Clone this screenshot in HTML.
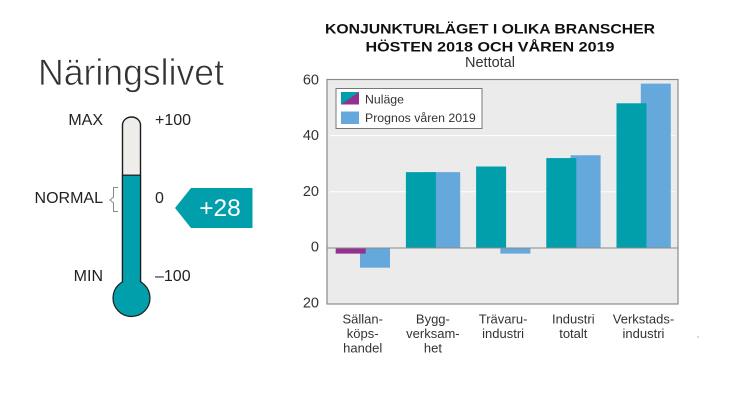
<!DOCTYPE html>
<html lang="sv">
<head>
<meta charset="utf-8">
<title>Näringslivet</title>
<style>
html,body{margin:0;padding:0;background:#fff;width:746px;height:419px;overflow:hidden}
svg{display:block;font-family:"Liberation Sans",sans-serif}
</style>
</head>
<body>
<svg id="chart" width="746" height="419" viewBox="0 0 746 419" xmlns="http://www.w3.org/2000/svg">
  <text x="38" y="85" font-size="37.5" fill="#333" stroke="#fff" stroke-width="0.7" paint-order="fill" textLength="186" lengthAdjust="spacingAndGlyphs">Näringslivet</text>
  <text x="490" y="33.5" font-size="14" font-weight="bold" fill="#111" text-anchor="middle" textLength="330" lengthAdjust="spacingAndGlyphs">KONJUNKTURLÄGET I OLIKA BRANSCHER</text>
  <text x="490" y="51.5" font-size="14" font-weight="bold" fill="#111" text-anchor="middle" textLength="249" lengthAdjust="spacingAndGlyphs">HÖSTEN 2018 OCH VÅREN 2019</text>
  <text x="490" y="67" font-size="14.5" fill="#333" text-anchor="middle">Nettotal</text>
  <g id="thermo"></g>
  <g id="bars"></g>
  <circle cx="698" cy="337" r="0.6" fill="#777"></circle>
</svg>
<script>
const categories = [["Sällan-","köps-","handel"],["Bygg-","verksam-","het"],["Trävaru-","industri"],["Industri","totalt"],["Verkstads-","industri"]];
const nulage = [-2, 27, 29, 32, 51.5];
const prognos = [-7, 27, -2, 33, 58.5];
const yTicks = [60, 40, 20, 0, -20];
const yTickLabels = ["60", "40", "20", "0", "20"];
const legendLabels = ["Nuläge", "Prognos våren 2019"];
const thermoValue = 28;
const thermoTicks = [100, 0, -100];
const thermoTickLabels = ["+100", "0", "–100"];
const thermoStateLabels = ["MAX", "NORMAL", "MIN"];

const NS = "http://www.w3.org/2000/svg";
const TEAL = "#009fab", PURPLE = "#93318f", BLUE = "#65a8dc";
function mk(parent, tag, attrs, text) {
  const el = document.createElementNS(NS, tag);
  for (const k in attrs) el.setAttribute(k, attrs[k]);
  if (text !== undefined) el.textContent = text;
  parent.appendChild(el);
  return el;
}

/* bar chart */
const bars = document.getElementById("bars");
const plotL = 327, plotR = 678, plotT = 79.5, plotB = 304;
const y = v => 248 - v * 2.81;
const groupX = i => 335.7 + i * 70.2;
const barW = 30, barOffset = 24.3;

const plotBg = mk(bars, "rect", {x: plotL, y: plotT, width: plotR - plotL, height: plotB - plotT, fill: "#ebebeb"});



yTicks.forEach((t, i) => {
  if (t !== 60 && t !== 0 && t !== -20) {
    const g = mk(bars, "line", {x1: plotL + 3, x2: plotR - 3, y1: y(t), y2: y(t), stroke: "#fff", "stroke-width": 1});
    
    
  }
  const lab = mk(bars, "text", {x: 319, y: y(t) + 5 - (60 - t) * 0.0225, "font-size": 14.5, fill: "#333", "text-anchor": "end"}, yTickLabels[i]);
  
  
});

categories.forEach((lines, i) => {
  const x0 = groupX(i);
  const pv = prognos[i], nv = nulage[i];
  const pb = mk(bars, "rect", {x: x0 + barOffset, y: Math.min(y(pv), y(0)), width: barW, height: Math.abs(y(pv) - y(0)), fill: BLUE});
  
  
  const nb = mk(bars, "rect", {x: x0, y: Math.min(y(nv), y(0)), width: barW, height: Math.abs(y(nv) - y(0)), fill: nv < 0 ? PURPLE : TEAL});
  
  
  lines.forEach((ln, j) => {
    const c = mk(bars, "text", {x: x0 + 27, y: 323.5 + j * 14.6, "font-size": 13, fill: "#333", "text-anchor": "middle"}, ln);
    
    
  });
});

const zeroLine = mk(bars, "line", {x1: plotL, x2: plotR, y1: y(0), y2: y(0), stroke: "#8a8a8a", "stroke-width": 1});


const frame = mk(bars, "rect", {x: plotL, y: plotT, width: plotR - plotL, height: plotB - plotT, fill: "none", stroke: "#8a8a8a", "stroke-width": 1.2});



/* legend */
const legend = mk(bars, "g", {});


const legendBox = mk(legend, "rect", {x: 336, y: 88.5, width: 146, height: 40, fill: "#fff", stroke: "#777", "stroke-width": 1});


const swA = mk(legend, "rect", {x: 341, y: 92, width: 18, height: 12.5, fill: TEAL});


const swB = mk(legend, "polygon", {points: "359,92 359,104.5 341,104.5", fill: PURPLE});


const swC = mk(legend, "rect", {x: 341, y: 111.5, width: 18, height: 12.5, fill: BLUE});


legendLabels.forEach((l, i) => {
  const t = mk(legend, "text", {x: 365, y: 103.5 + i * 18.5, "font-size": 12.3, fill: "#333"}, l);
  
  
});

/* thermometer */
const th = document.getElementById("thermo");
const ty = v => 197 - v * 0.78;
const level = ty(thermoValue);
const tube = mk(th, "path", {d: "M122.5 283V125a9 8 0 0 1 18 0V283Z", fill: "#efedea", stroke: "#1c1c1c", "stroke-width": 1.4});


const fluid = mk(th, "rect", {x: 122.5, y: level, width: 18, height: 290 - level, fill: TEAL, stroke: "#1c1c1c", "stroke-width": 1.2});


const bulb = mk(th, "circle", {cx: 131.5, cy: 298, r: 18.5, fill: TEAL, stroke: "#1c1c1c", "stroke-width": 1.2});


const neck = mk(th, "rect", {x: 123.2, y: 278, width: 16.6, height: 14, fill: TEAL});



thermoTicks.forEach((t, i) => {
  const a = mk(th, "text", {x: 155, y: ty(t) + 6, "font-size": 16, fill: "#222"}, thermoTickLabels[i]);
  
  
  const b = mk(th, "text", {x: 103, y: ty(t) + 6, "font-size": 16, fill: "#222", "text-anchor": "end"}, thermoStateLabels[i]);
  
  
});

const brace = mk(th, "path", {d: "M118 187.5h-4.5v9.5l-3.5 3 3.5 3v8.5h4.5", fill: "none", stroke: "#888", "stroke-width": 1});



const tag = mk(th, "polygon", {points: "175,208 191,188 252.5,188 252.5,228 191,228", fill: TEAL});


const tagText = mk(th, "text", {x: 220, y: 216, "font-size": 24.5, fill: "#fff", "text-anchor": "middle"}, "+" + thermoValue);


</script>
</body>
</html>
